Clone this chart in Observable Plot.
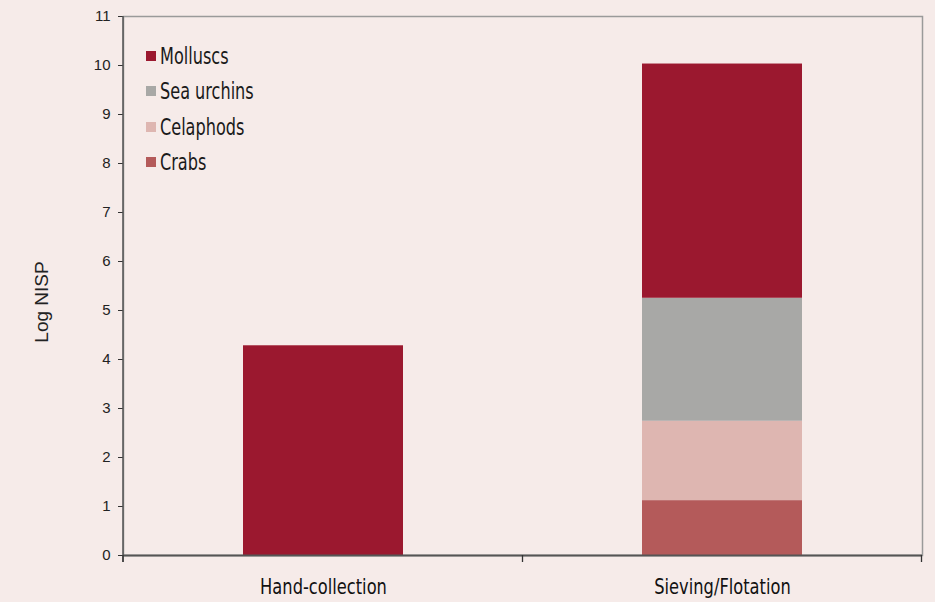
<!DOCTYPE html>
<html>
<head>
<meta charset="utf-8">
<script src="https://cdn.jsdelivr.net/npm/d3@7"></script>
<script src="https://cdn.jsdelivr.net/npm/@observablehq/plot@0.6"></script>
<style>
  html, body { margin: 0; padding: 0; background: #f6ebe9; }
  #wrap { position: relative; width: 935px; height: 602px; overflow: hidden; }
  #legend { position: absolute; left: 146px; top: 38px; font-family: "DejaVu Sans", sans-serif; font-size: 23px; color: #1a1a1a; }
  #legend .item { height: 35.5px; display: flex; align-items: center; white-space: nowrap; }
  #legend .sw { width: 10px; height: 10px; margin-right: 4px; display: inline-block; flex: none; }
  #legend .lbl { display: inline-block; transform: scaleX(0.70); transform-origin: left center; }
  #ylabel { position: absolute; left: 42px; top: 302px; transform: translate(-50%, -50%) rotate(-90deg); font-family: "Liberation Sans", Arial, sans-serif; font-size: 19px; color: #222; white-space: nowrap; }
</style>
</head>
<body>
<div id="wrap">
  <div id="chart"></div>
  <div id="legend"></div>
  <div id="ylabel">Log NISP</div>
</div>
<script>
const categories = ["Hand-collection", "Sieving/Flotation"];
const taxa = ["Molluscs", "Sea urchins", "Celaphods", "Crabs"];
const colors = ["#9b182f", "#a8a8a6", "#deb6b1", "#b45a5a"];
const molluscs = [4.28, 4.78];
const seaUrchins = [0, 2.51];
const celaphods = [0, 1.62];
const crabs = [0, 1.12];
const yTicks = [0, 1, 2, 3, 4, 5, 6, 7, 8, 9, 10, 11];

const series = { "Molluscs": molluscs, "Sea urchins": seaUrchins, "Celaphods": celaphods, "Crabs": crabs };
const stackOrder = ["Crabs", "Celaphods", "Sea urchins", "Molluscs"];
const rows = [];
for (const t of stackOrder) {
  categories.forEach((c, i) => {
    if (series[t][i] > 0) rows.push({ category: c, taxon: t, value: series[t][i] });
  });
}

const plot = Plot.plot({
  width: 935,
  height: 602,
  marginLeft: 123,
  marginRight: 13,
  marginTop: 16,
  marginBottom: 47,
  style: { background: "#f6ebe9", overflow: "visible" },
  x: { domain: categories, paddingInner: 0.6, paddingOuter: 0.3, label: null },
  y: { domain: [0, 11], label: null },
  color: { domain: taxa, range: colors },
  marks: [
    Plot.frame({ stroke: "#9a9a9a", strokeWidth: 1.5 }),
    Plot.barY(rows, Plot.stackY({ x: "category", y: "value", fill: "taxon" })),
    Plot.axisY({ ticks: yTicks, tickSize: 5, tickPadding: 8, fontSize: 15, color: "#333", label: null }),
    Plot.axisX({ tickSize: 0, tickPadding: 23, fontSize: 22, color: "#111", label: null }),
    Plot.ruleY([0], { stroke: "#555", strokeWidth: 2 })
  ]
});

document.getElementById("chart").appendChild(plot);

const svg = d3.select(plot);
svg.selectAll("text").each(function () {
  const s = (this.textContent || "").trim();
  if (/^\d+$/.test(s)) {
    this.setAttribute("font-size", "15");
    this.style.fontSize = "15px";
    this.style.fontFamily = '"Liberation Sans", Arial, sans-serif';
    this.style.fill = "#222";
  } else if (categories.includes(s)) {
    this.setAttribute("font-size", "22");
    this.style.fontSize = "22px";
    this.style.fontFamily = '"DejaVu Sans", sans-serif';
    this.style.fill = "#111";
  }
});
svg.selectAll("text").each(function () {
  const s = (this.textContent || "").trim();
  if (categories.includes(s)) {
    const bb = this.getBBox();
    const cx = bb.x + bb.width / 2;
    const tr = this.getAttribute("transform") || "";
    this.setAttribute("transform", `${tr} translate(${cx},0) scale(0.74,1) translate(${-cx},0)`);
  }
});

// y axis line and boundary ticks on the x axis using the plot's scales
const xs = plot.scale("x");
const ys = plot.scale("y");
const y0 = ys.apply(0), yTop = ys.apply(11);
const left = xs.range[0];
svg.append("line").attr("x1", left).attr("x2", left).attr("y1", yTop).attr("y2", y0 + 7)
  .attr("stroke", "#555").attr("stroke-width", 1.5);
const step = xs.step;
const bounds = [left];
categories.forEach(c => bounds.push(xs.apply(c) + xs.bandwidth + (step - xs.bandwidth) / 2));
bounds.forEach(b => {
  svg.append("line").attr("x1", b).attr("x2", b).attr("y1", y0).attr("y2", y0 + 7)
    .attr("stroke", "#333").attr("stroke-width", 1.3);
});

// legend
const legend = d3.select("#legend");
taxa.forEach((t, i) => {
  const item = legend.append("div").attr("class", "item");
  item.append("span").attr("class", "sw").style("background", colors[i]);
  item.append("span").attr("class", "lbl").text(t);
});
</script>
</body>
</html>
